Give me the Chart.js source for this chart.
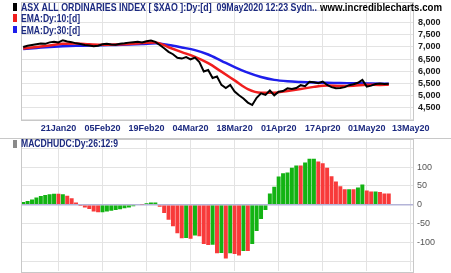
<!DOCTYPE html>
<html>
<head>
<meta charset="utf-8">
<script src="https://cdn.jsdelivr.net/npm/chart.js"></script>
<style>
  html, body { margin: 0; padding: 0; background: #fff; }
  #wrap { position: relative; width: 451px; height: 273px; overflow: hidden; }
  #top { position: absolute; left: 0; top: 0; width: 451px; height: 136px; }
  #bottom { position: absolute; left: 0; top: 136px; width: 451px; height: 137px; }
</style>
</head>
<body>
<div id="wrap">
  <div id="top"><canvas id="priceChart"></canvas></div>
  <div id="bottom"><canvas id="macdChart"></canvas></div>
</div>

<script>
  // x axis: one step per trading day, Jan 9 2020 = 0
  var tickIdx = [8, 18, 28, 38, 48, 58, 68, 78, 88];
  var tickLabels = ["21Jan20", "05Feb20", "19Feb20", "04Mar20", "18Mar20", "01Apr20", "17Apr20", "01May20", "13May20"];

  var priceTicks = [4000, 4500, 5000, 5500, 6000, 6500, 7000, 7500, 8000, 8500];
  var macdTicks = [-150, -100, -50, 0, 50, 100, 150];

  // $XAO daily close
  var close = [
    7000, 7050, 7080, 7110, 7140, 7130, 7190, 7220, 7190, 7280,
    7230, 7200, 7150, 7120, 7080, 7060, 7030, 7050, 7110, 7130,
    7100, 7090, 7130, 7150, 7180, 7200, 7220, 7190, 7240, 7270,
    7210, 7080, 6950, 6800, 6700, 6550, 6520, 6580, 6490, 6560,
    6380, 5990, 6050, 5720, 5780, 5430, 5300, 5430, 5160, 5000,
    4870, 4700, 4600, 4900, 5080, 5020, 5200, 5000, 5150, 5180,
    5290, 5260, 5300, 5420, 5380, 5560, 5540, 5500, 5570, 5430,
    5340, 5290, 5300, 5340, 5420, 5460, 5520, 5640, 5360, 5400,
    5470, 5490, 5470, 5480
  ];

  // EMA readings, every third day
  var emaIdx = [0, 3, 6, 9, 12, 15, 18, 21, 24, 27, 30, 33, 36, 39, 42, 45, 48, 51, 54, 57, 60, 63, 66, 69, 72, 75, 78, 81, 83];
  var ema10 = [6940, 7000, 7060, 7130, 7140, 7110, 7090, 7100, 7120, 7160, 7190, 6990, 6790, 6590, 6330, 5980, 5620, 5260, 5110, 5110, 5180, 5260, 5350, 5410, 5390, 5400, 5440, 5430, 5440];
  var ema30 = [6920, 6960, 7000, 7030, 7050, 7060, 7075, 7085, 7100, 7120, 7150, 7080, 6980, 6870, 6690, 6430, 6170, 5940, 5760, 5640, 5580, 5550, 5530, 5520, 5510, 5500, 5490, 5480, 5480];

  // MACD histogram (26,12,9) and bar colour (1 = green, 0 = red)
  var macdHist = [
    7, 10, 14, 19, 23, 26, 28, 29, 29, 28,
    24, 17, 6, -3, -7, -11, -18, -20, -20, -18,
    -16, -14, -12, -9, -7, -4, 2, 1, 4, 6,
    6, -5, -22, -40, -57, -76, -89, -88, -90, -82,
    -84, -104, -107, -106, -129, -128, -143, -129, -131, -135,
    -123, -123, -104, -70, -38, -14, 30, 48, 75, 84,
    86, 98, 104, 104, 112, 122, 122, 115, 110, 98,
    76, 62, 49, 41, 41, 41, 46, 54, 38, 35,
    35, 34, 30, 30
  ];
  var upDay = [
    1, 1, 1, 1, 1, 1, 1, 1, 0, 1,
    0, 0, 0, 0, 0, 0, 0, 0, 1, 1,
    1, 1, 1, 1, 1, 1, 1, 0, 1, 1,
    1, 0, 0, 0, 0, 0, 0, 1, 0, 1,
    0, 0, 0, 1, 0, 1, 0, 1, 0, 0,
    1, 0, 1, 1, 1, 1, 1, 1, 1, 1,
    1, 1, 1, 0, 1, 1, 1, 0, 0, 0,
    0, 0, 0, 0, 1, 0, 1, 1, 0, 0,
    1, 0, 0, 0
  ];

  var NAVY = "#1c2a80";
  var GRID = "#e3e3e3";
  var FONT = "'Liberation Sans', Arial, sans-serif";

  function fitText(ctx, str, x, base, w, font, color) {
    ctx.save();
    ctx.font = font;
    ctx.fillStyle = color;
    ctx.textBaseline = "alphabetic";
    ctx.textAlign = "left";
    var m = ctx.measureText(str).width;
    ctx.translate(x, base);
    ctx.scale(w / m, 1);
    ctx.fillText(str, 0, 0);
    ctx.restore();
  }

  var framePlugin = {
    id: "frame",
    afterDraw: function (chart) {
      var a = chart.chartArea;
      var ctx = chart.ctx;
      ctx.save();
      ctx.strokeStyle = "#c8c8c8";
      ctx.lineWidth = 1;
      ctx.strokeRect(Math.round(a.left) + 0.5, Math.round(a.top) + 0.5, Math.round(a.right - a.left), Math.round(a.bottom - a.top));
      ctx.restore();
    }
  };

  var topTitles = {
    id: "topTitles",
    afterDraw: function (chart) {
      var ctx = chart.ctx;
      ctx.fillStyle = "#000";
      ctx.fillRect(13, 3, 4, 8);
      ctx.fillStyle = "#f01e1e";
      ctx.fillRect(13, 14, 4, 8);
      ctx.fillStyle = "#1e1eeb";
      ctx.fillRect(13, 26, 4, 7);
      var f = "bold 11px " + FONT;
      fitText(ctx, "ASX ALL ORDINARIES INDEX [ $XAO ]:Dy:[d]  09May2020 12:23 Sydn..", 21, 11, 296, f, NAVY);
      fitText(ctx, "www.incrediblecharts.com", 320, 11, 122, f, "#000");
      fitText(ctx, "EMA:Dy:10:[d]", 21, 22, 59, f, NAVY);
      fitText(ctx, "EMA:Dy:30:[d]", 21, 33.5, 59, f, NAVY);
    }
  };

  var macdTitles = {
    id: "macdTitles",
    afterDraw: function (chart) {
      var ctx = chart.ctx;
      ctx.save();
      ctx.strokeStyle = "#c8c8c8";
      ctx.beginPath();
      ctx.moveTo(0, 2.5);
      ctx.lineTo(451, 2.5);
      ctx.stroke();
      ctx.restore();
      ctx.fillStyle = "#8a8a8a";
      ctx.fillRect(13, 4, 4, 8);
      fitText(ctx, "MACDHUDC:Dy:26:12:9", 21, 11, 97, "bold 11px " + FONT, NAVY);
    }
  };

  var xScale = {
    type: "linear",
    min: -0.5,
    max: 88.5,
    offset: false,
    grid: { color: GRID, drawTicks: false, offset: false },
    border: { display: false },
    afterBuildTicks: function (s) {
      s.ticks = tickIdx.map(function (v) { return { value: v }; });
    }
  };

  function rightAxisFit(s) {
    s.width = 38;
    s.paddingTop = 0;
    s.paddingBottom = 0;
  }

  new Chart(document.getElementById("priceChart"), {
    type: "line",
    data: {
      datasets: [
        {
          label: "XAO",
          data: close.map(function (v, i) { return { x: i, y: v }; }),
          borderColor: "#000",
          borderWidth: 2,
          pointRadius: 0,
          tension: 0
        },
        {
          label: "EMA10",
          data: emaIdx.map(function (x, k) { return { x: x, y: ema10[k] }; }),
          borderColor: "#f01e1e",
          borderWidth: 2.5,
          pointRadius: 0,
          cubicInterpolationMode: "monotone"
        },
        {
          label: "EMA30",
          data: emaIdx.map(function (x, k) { return { x: x, y: ema30[k] }; }),
          borderColor: "#1e1eeb",
          borderWidth: 2.5,
          pointRadius: 0,
          cubicInterpolationMode: "monotone"
        }
      ]
    },
    options: {
      responsive: true,
      maintainAspectRatio: false,
      animation: false,
      layout: { padding: { left: 21, top: 2, right: 0, bottom: 0 } },
      plugins: { legend: { display: false }, tooltip: { enabled: false } },
      scales: {
        x: Object.assign({}, xScale, {
          afterFit: function (s) { s.height = 16; s.paddingLeft = 0; s.paddingRight = 0; },
          ticks: {
            padding: 3,
            autoSkip: false,
            maxRotation: 0,
            font: { family: FONT, size: 9, weight: "bold" },
            color: NAVY,
            callback: function (v) { return tickLabels[tickIdx.indexOf(v)]; }
          }
        }),
        y: {
          position: "right",
          min: 3980,
          max: 8860,
          grid: { color: GRID, drawTicks: false },
          border: { display: false },
          afterBuildTicks: function (s) {
            s.ticks = priceTicks.map(function (v) { return { value: v }; });
          },
          afterFit: rightAxisFit,
          ticks: {
            padding: 5,
            autoSkip: false,
            font: { family: FONT, size: 9, weight: "bold" },
            color: "#1a1a1a",
            callback: function (v) { return v >= 4500 && v <= 8000 ? v.toLocaleString("en-US") : ""; }
          }
        }
      }
    },
    plugins: [framePlugin, topTitles]
  });

  new Chart(document.getElementById("macdChart"), {
    type: "bar",
    data: {
      datasets: [
        {
          label: "MACD hist",
          data: macdHist.map(function (v, i) { return { x: i, y: v }; }),
          backgroundColor: upDay.map(function (u) { return u ? "#13b313" : "#f83a3a"; }),
          barPercentage: 0.9,
          categoryPercentage: 1
        }
      ]
    },
    options: {
      responsive: true,
      maintainAspectRatio: false,
      animation: false,
      layout: { padding: { left: 21, top: 2.5, right: 0, bottom: 2 } },
      plugins: { legend: { display: false }, tooltip: { enabled: false } },
      scales: {
        x: Object.assign({}, xScale, {
          afterFit: function (s) { s.height = 0; s.paddingLeft = 0; s.paddingRight = 0; },
          ticks: { display: false }
        }),
        y: {
          position: "right",
          min: -176,
          max: 176,
          grid: {
            drawTicks: false,
            color: function (c) { return c.tick && c.tick.value === 0 ? "#b4b4d8" : GRID; },
            lineWidth: function (c) { return c.tick && c.tick.value === 0 ? 1.5 : 1; }
          },
          border: { display: false },
          afterBuildTicks: function (s) {
            s.ticks = macdTicks.map(function (v) { return { value: v }; });
          },
          afterFit: rightAxisFit,
          ticks: {
            padding: 4,
            autoSkip: false,
            font: { family: FONT, size: 9 },
            color: "#555",
            callback: function (v) { return Math.abs(v) <= 100 ? String(v) : ""; }
          }
        }
      }
    },
    plugins: [framePlugin, macdTitles]
  });
</script>
</body>
</html>
